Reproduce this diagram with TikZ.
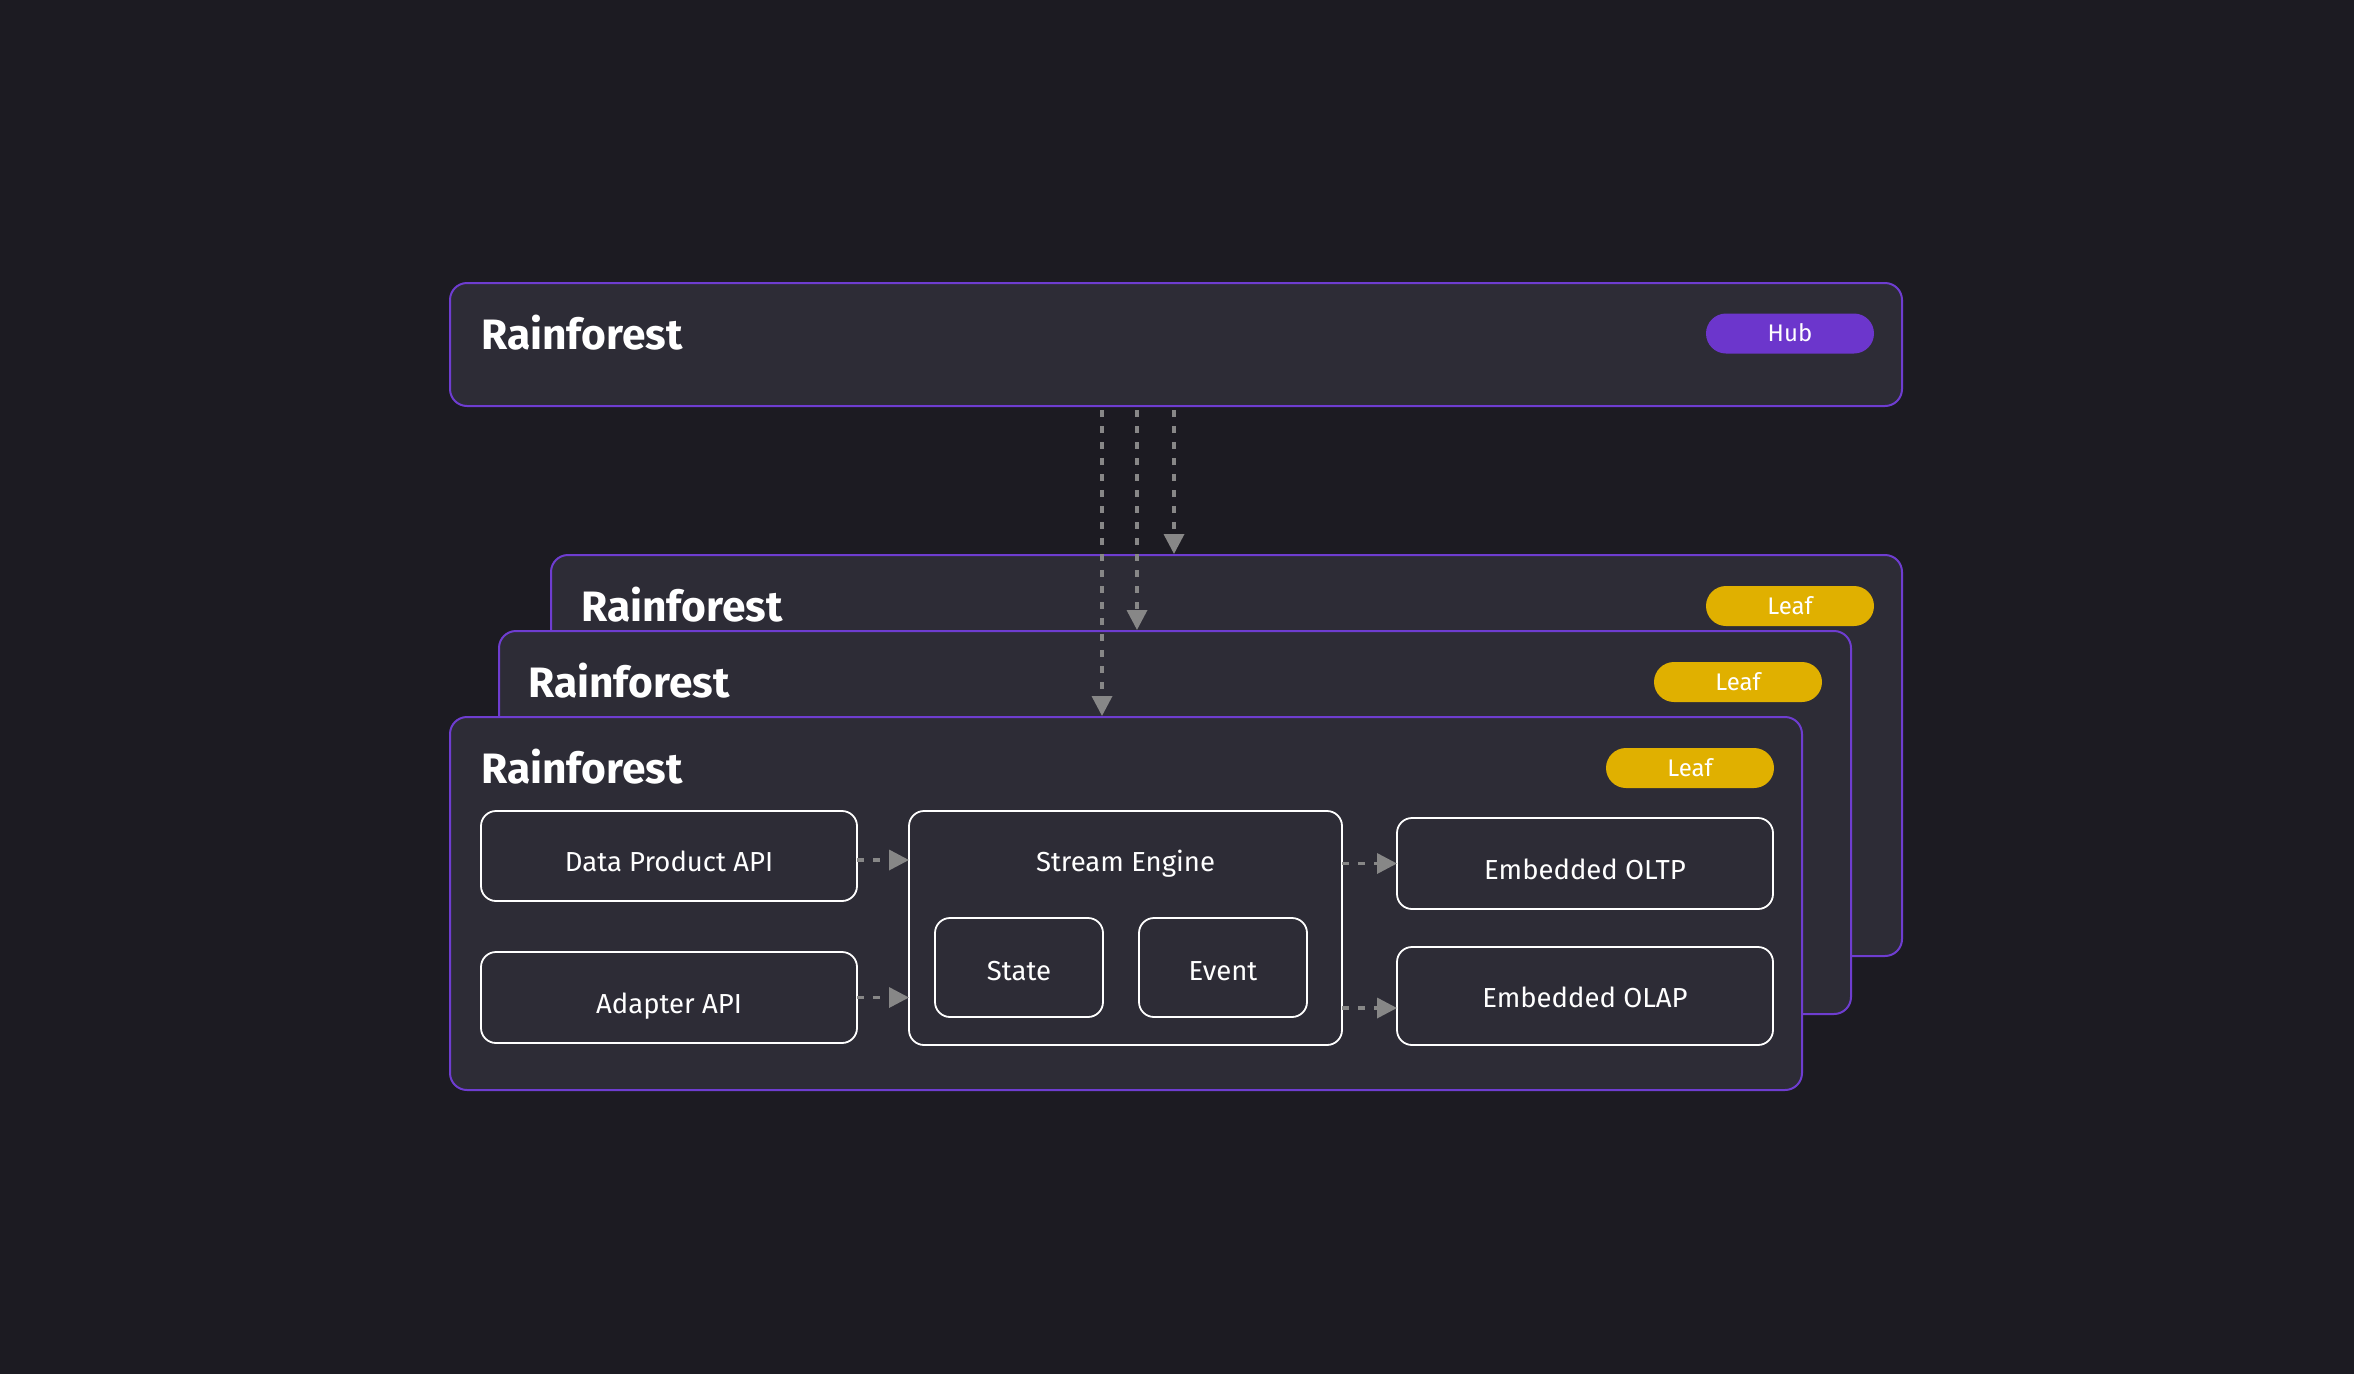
\documentclass[tikz,border=0pt]{standalone}
\usepackage{fontspec}
\setmainfont{Fira Sans}
\usetikzlibrary{arrows.meta,calc}
\definecolor{bgc}{HTML}{1C1B22}
\definecolor{boxc}{HTML}{2D2C36}
\definecolor{purp}{HTML}{6E3DD0}
\definecolor{hubc}{HTML}{6C36CC}
\definecolor{leafc}{HTML}{E0B000}
\definecolor{arrc}{HTML}{878787}
\begin{document}
\begin{tikzpicture}[x=1pt,y=-1pt,
  panel/.style={rectangle, draw=purp, fill=boxc, line width=2pt, rounded corners=17pt, inner sep=0pt, outer sep=0pt},
  pill/.style={rectangle, rounded corners=20pt, minimum width=168pt, minimum height=40pt, inner sep=0pt, outer sep=0pt, text=white, font=\fontsize{24}{24}\selectfont, text height=16.5pt, text depth=0pt},
  hubpill/.style={pill, fill=hubc},
  leafpill/.style={pill, fill=leafc},
  ptitle/.style={anchor=base west, inner sep=0pt, text=white, font=\fontsize{42.5}{42.5}\selectfont\bfseries},
  comp/.style={rectangle, draw=white, line width=1.8pt, fill=boxc, rounded corners=15pt, inner sep=0pt, outer sep=0pt, text=white, font=\fontsize{27.5}{27.5}\selectfont, text height=31pt, text depth=0pt},
  subcomp/.style={comp, text height=25pt},
  olapcomp/.style={comp, text height=23pt},
  plain/.style={inner sep=0pt, text=white, font=\fontsize{27.5}{27.5}\selectfont},
  flow/.style={draw=arrc, line width=3.5pt, dash pattern=on 7pt off 9pt, -{Triangle[length=20pt,width=20pt]}}
]
\fill[bgc] (0,0) rectangle (2354,1374);

% hub
\node[panel, minimum width=1452pt, minimum height=123pt] (hub) at (1176,344.5) {};
\node[ptitle] (htitle) at (481,349) {Rainforest};
\node[hubpill] (hpill) at (1790,333.5) {Hub};

% back leaf
\node[panel, minimum width=1351pt, minimum height=401pt] (back) at (1226.5,755.5) {};
\node[ptitle] (btitle) at (581,621) {Rainforest};
\node[leafpill] (bpill) at (1790,606) {Leaf};

% middle leaf
\node[panel, minimum width=1352pt, minimum height=383pt] (mid) at (1175,822.5) {};
\node[ptitle] (mtitle) at (528,697) {Rainforest};
\node[leafpill] (mpill) at (1738,682) {Leaf};

% front leaf
\node[panel, minimum width=1352pt, minimum height=373pt] (front) at (1126,903.5) {};
\node[ptitle] (ftitle) at (481,783) {Rainforest};
\node[leafpill] (fpill) at (1690,768) {Leaf};

% components
\node[comp, minimum width=376pt, minimum height=90pt] (dp) at (669,856) {Data Product API};
\node[comp, minimum width=376pt, minimum height=91pt] (ad) at (669,997.5) {Adapter API};
\node[comp, minimum width=433pt, minimum height=234pt] (se) at (1125.5,928) {};
\node[plain, anchor=base] (selbl) at (1125.5,871) {Stream Engine};
\node[subcomp, minimum width=168pt, minimum height=99pt] (st) at (1019,967.5) {State};
\node[subcomp, minimum width=168pt, minimum height=99pt] (ev) at (1223,967.5) {Event};
\node[comp, minimum width=376pt, minimum height=91pt] (oltp) at (1585,863.5) {Embedded OLTP};
\node[olapcomp, minimum width=376pt, minimum height=98pt] (olap) at (1585,996) {Embedded OLAP};

% horizontal flows
\coordinate (dpout) at ([yshift=-4pt]dp.east);
\coordinate (olapin) at ([yshift=-12pt]olap.west);
\draw[flow] (dpout) -- (dpout -| se.west);
\draw[flow] (ad.east) -- (ad.east -| se.west);
\draw[flow] (se.east |- oltp.west) -- (oltp.west);
\draw[flow] (se.east |- olapin) -- (olapin);

% vertical flows from hub
\coordinate (v1) at (1102,0);
\coordinate (v2) at (1137,0);
\coordinate (v3) at (1174,0);
\draw[flow, shorten <=4pt, shorten >=1pt] (hub.south -| v1) -- (front.north -| v1);
\draw[flow, shorten <=4pt, shorten >=1pt] (hub.south -| v2) -- (mid.north -| v2);
\draw[flow, shorten <=4pt, shorten >=1pt] (hub.south -| v3) -- (back.north -| v3);
\end{tikzpicture}
\end{document}
